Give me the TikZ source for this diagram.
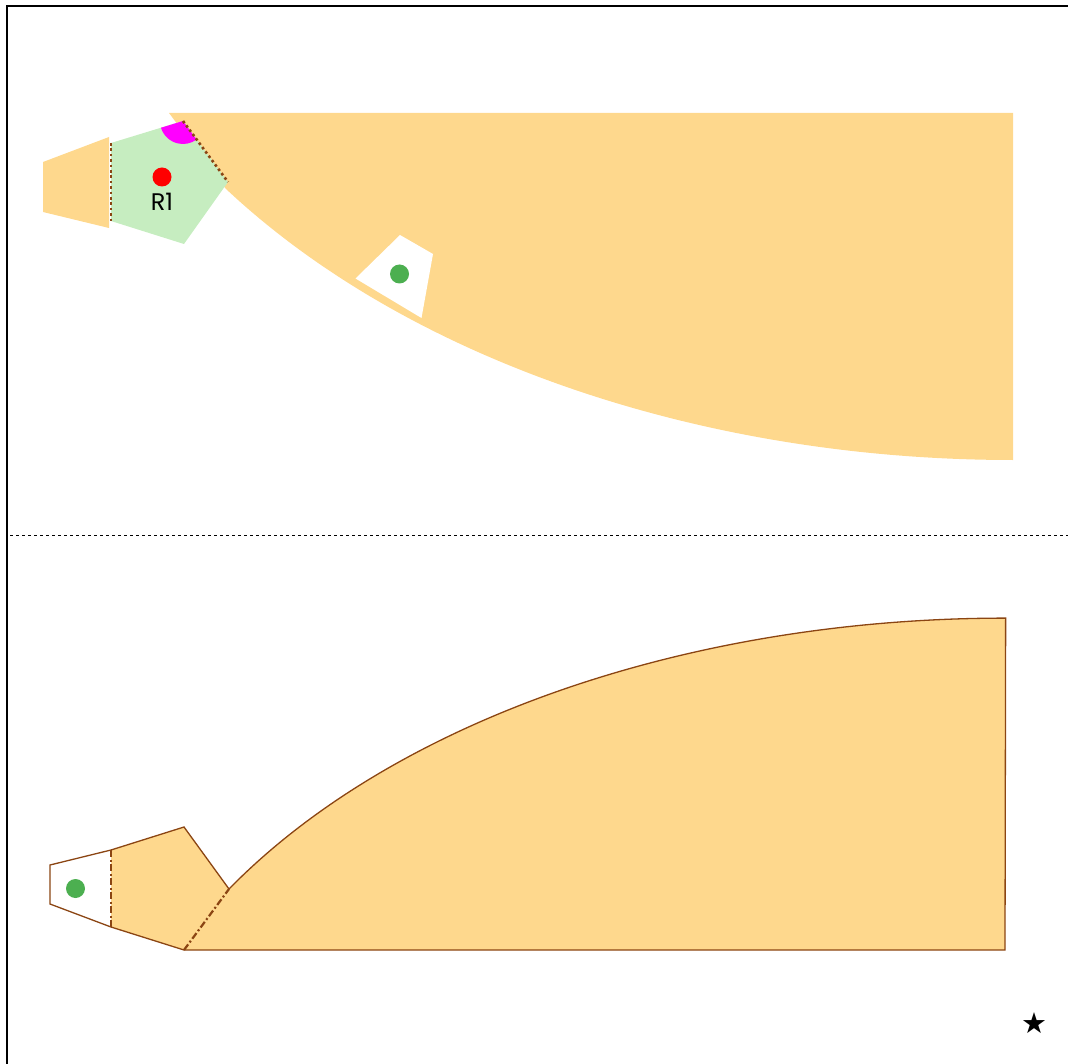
\documentclass[tikz,border=0pt]{standalone}
\usepackage{fontspec}
\newfontfamily\labelfont{Poppins}
\newfontfamily\starfont{DejaVu Sans}
\definecolor{shapeorange}{RGB}{254,216,141}
\definecolor{lightgreen}{RGB}{198,237,192}
\definecolor{dotgreen}{RGB}{76,175,80}
\definecolor{edgebrown}{RGB}{139,69,19}
\definecolor{brightmagenta}{RGB}{255,0,255}
\definecolor{brightred}{RGB}{255,0,0}
\tikzset{
  frameline/.style={line width=1.5pt, black},
  dotedge/.style={edgebrown, line width=2.6pt, dash pattern=on 2.6pt off 2.8pt},
  dashdotedge/.style={edgebrown, line width=2.2pt, dash pattern=on 7pt off 2.5pt on 2pt off 2.5pt},
  outline/.style={edgebrown, line width=1.3pt, line join=miter},
  dotnode/.style={circle, inner sep=0pt, minimum size=19pt},
}
\begin{document}
\begin{tikzpicture}[x=1pt,y=-1pt]
\useasboundingbox (0,0) rectangle (1068,1064);
% frame and divider
\draw[frameline] (7,1064) -- (7,6) -- (1068,6);
\draw[black, line width=1pt, dash pattern=on 3pt off 3pt] (10,535.5) -- (1068,535.5);

% ---------- top figure ----------
\coordinate (tA) at (111,143);
\coordinate (tB) at (183,121);
\coordinate (tC) at (228,182);
\coordinate (tD) at (184,244);
\coordinate (tE) at (111,221);
\fill[shapeorange] (43,162) -- (109,137) -- (109,228) -- (43,212) -- cycle;
\fill[shapeorange] (169,113) -- (1013,113) -- (1013,460)
   arc[start angle=270, end angle=215.4, x radius=966pt, y radius=645pt] -- cycle;
\fill[lightgreen] (tA) -- (tB) -- (tC) -- (tD) -- (tE) -- cycle;
\fill[white] (400,235) -- (433,254) -- (421.5,318) -- (355.5,278.5) -- cycle;
\fill[brightmagenta] (tB) -- ++(197:23pt) arc[start angle=197, end angle=306.4, radius=23pt] -- cycle;
\draw[dotedge] (tB) -- (tC);
\draw[dotedge] (tA) -- (tE);
\node[dotnode, fill=brightred] (reddot) at (162,177) {};
\node[font=\labelfont\fontsize{24}{24}\selectfont, inner sep=0pt] (rlabel) at (162,202) {R1};
\node[dotnode, fill=dotgreen] (topdot) at (399.5,274) {};

% ---------- bottom figure ----------
\coordinate (bA) at (111,850);
\coordinate (bB) at (184,827);
\coordinate (bC) at (229,889);
\coordinate (bD) at (184,950);
\coordinate (bE) at (111,927);
\fill[shapeorange] (bA) -- (bB) -- (bC)
   arc[start angle=148.8, end angle=90, x radius=908pt, y radius=562pt]
   -- (1005,950) -- (bD) -- (bE) -- cycle;
\draw[outline] (50,865) -- (bA) -- (bB) -- (bC)
   arc[start angle=148.8, end angle=90, x radius=908pt, y radius=562pt]
   -- (1005,950) -- (bD) -- (bE) -- (50,904) -- cycle;
\draw[dashdotedge] (bA) -- (bE);
\draw[dashdotedge] (bD) -- (bC);
\node[dotnode, fill=dotgreen] (botdot) at (75.5,888.5) {};

% star
\node[font=\starfont\fontsize{29}{29}\selectfont, inner sep=0pt] (star) at (1034,1023) {★};
\end{tikzpicture}
\end{document}
